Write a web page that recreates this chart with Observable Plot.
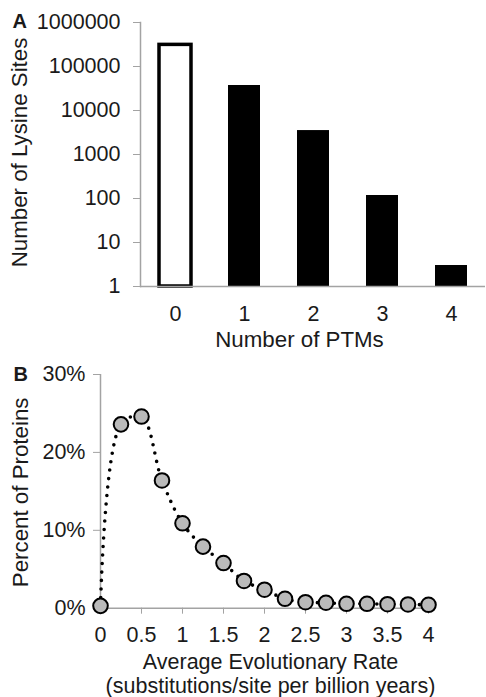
<!DOCTYPE html>
<html>
<head>
<meta charset="utf-8">
<script src="https://cdn.jsdelivr.net/npm/d3@7"></script>
<script src="https://cdn.jsdelivr.net/npm/@observablehq/plot@0.6"></script>
<style>
  html, body { margin: 0; padding: 0; background: #fff; }
  svg { display: block; }
</style>
</head>
<body>
<div id="chart"></div>
<script>
// ---------- Panel A data ----------
const ptmCategories = ["0", "1", "2", "3", "4"];
const lysineSites = [310000, 37000, 3500, 117, 3];
const yTicksA = [1, 10, 100, 1000, 10000, 100000, 1000000];
const xLabelA = "Number of PTMs";
const yLabelA = "Number of Lysine Sites";

// ---------- Panel B data ----------
const rates = [0, 0.25, 0.5, 0.75, 1, 1.25, 1.5, 1.75, 2, 2.25, 2.5, 2.75, 3, 3.25, 3.5, 3.75, 4];
const percentProteins = [0.003, 0.236, 0.246, 0.164, 0.109, 0.079, 0.058, 0.035, 0.0237, 0.0121, 0.0077, 0.007, 0.0057, 0.0057, 0.0051, 0.0048, 0.0044];
const xTicksB = [0, 0.5, 1, 1.5, 2, 2.5, 3, 3.5, 4];
const yTicksB = [0, 0.1, 0.2, 0.3];
const xLabelB = ["Average Evolutionary Rate", "(substitutions/site per billion years)"];
const yLabelB = "Percent of Proteins";

const dataA = ptmCategories.map((c, i) => ({ptm: c, value: lysineSites[i]}));
const dataB = rates.map((r, i) => ({rate: r, pct: percentProteins[i]}));

const axisGray = "#a3a3a3";
const textColor = "#1a1a1a";
const font = "'Liberation Sans', Arial, Helvetica, sans-serif";

const A = Plot.plot({
  width: 486,
  height: 350,
  marginLeft: 140,
  marginRight: 1,
  marginTop: 22,
  marginBottom: 64,
  style: {fontFamily: font, fontSize: "21.5px", color: textColor, background: "#fff", overflow: "visible"},
  x: {domain: ptmCategories, paddingInner: 0.54, paddingOuter: 0.27},
  y: {type: "log", domain: [1, 1000000]},
  marks: [
    Plot.barY(dataA.filter(d => d.ptm !== "0"), {x: "ptm", y1: 1, y2: "value", fill: "black"}),
    Plot.barY(dataA.filter(d => d.ptm === "0"), {x: "ptm", y1: 1, y2: "value", fill: "white", stroke: "black", strokeWidth: 3.5}),
    Plot.ruleY([1], {stroke: axisGray, strokeWidth: 1.5}),
    Plot.frame({anchor: "left", stroke: axisGray, strokeWidth: 1.5}),
    Plot.axisY({ticks: yTicksA, tickSize: 7, tickPadding: 13, tickFormat: d => String(d), label: null, stroke: axisGray, fill: textColor}),
    Plot.axisX({tickSize: 0, tickPadding: 19, label: null, fill: textColor}),
    Plot.text([xLabelA], {frameAnchor: "bottom", dx: -13.5, dy: 53.5, lineAnchor: "middle", fontSize: 22.3, fill: textColor}),
    Plot.text([yLabelA], {frameAnchor: "left", rotate: -90, dx: -121, dy: -2, lineAnchor: "middle", textAnchor: "middle", fontSize: 22.3, fill: textColor}),
    Plot.text(["A"], {frameAnchor: "top-left", dx: -128, dy: -1, textAnchor: "start", lineAnchor: "middle", fontWeight: "bold", fontSize: 20, fill: textColor})
  ]
});

const B = Plot.plot({
  width: 486,
  height: 347,
  marginLeft: 100,
  marginRight: 58,
  marginTop: 24,
  marginBottom: 89.3,
  style: {fontFamily: font, fontSize: "21.5px", color: textColor, background: "#fff", overflow: "visible"},
  x: {domain: [0, 4]},
  y: {domain: [0, 0.3]},
  marks: [
    Plot.ruleY([0], {stroke: axisGray, strokeWidth: 1.5}),
    Plot.ruleX([0], {stroke: axisGray, strokeWidth: 1.5}),
    Plot.axisX({ticks: xTicksB, tickSize: 6, tickPadding: 13, tickFormat: d => String(d), label: null, stroke: axisGray, fill: textColor}),
    Plot.axisY({ticks: yTicksB, tickSize: 7, tickPadding: 8, tickFormat: d3.format(".0%"), label: null, stroke: axisGray, fill: textColor}),
    Plot.line(dataB, {x: "rate", y: "pct", curve: "catmull-rom", stroke: "black", strokeWidth: 3.6, strokeDasharray: "0 8.5", strokeLinecap: "round"}),
    Plot.dot(dataB, {x: "rate", y: "pct", r: 7.3, fill: "#bababa", stroke: "black", strokeWidth: 2}),
    Plot.text([xLabelB.join("\n")], {frameAnchor: "bottom", dx: 6, dy: 65, lineAnchor: "middle", lineHeight: 1.12, fontSize: 21.5, fill: textColor}),
    Plot.text([yLabelB], {frameAnchor: "left", rotate: -90, dx: -80, dy: 1, lineAnchor: "middle", textAnchor: "middle", fontSize: 22.3, fill: textColor}),
    Plot.text(["B"], {frameAnchor: "top-left", dx: -87, dy: 0, textAnchor: "start", lineAnchor: "middle", fontWeight: "bold", fontSize: 20, fill: textColor})
  ]
});

const chart = document.getElementById("chart");
chart.appendChild(A);
chart.appendChild(B);
</script>
</body>
</html>
